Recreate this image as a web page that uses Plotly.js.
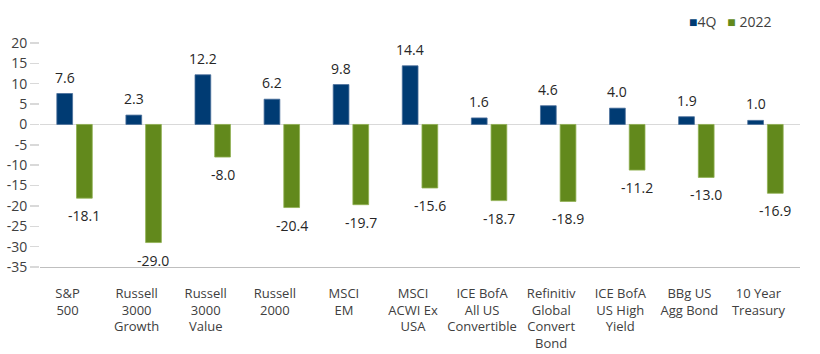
<!DOCTYPE html>
<html><head><meta charset="utf-8">
<script src="https://cdn.plot.ly/plotly-3.0.1.min.js"></script>
<style>html,body{margin:0;padding:0;background:#fff}#c{width:820px;height:354px}</style>
</head><body><div id="c"></div>
<script>
const categories = ["S&P<br>500","Russell<br>3000<br>Growth","Russell<br>3000<br>Value","Russell<br>2000","MSCI<br>EM","MSCI<br>ACWI Ex<br>USA","ICE BofA<br>All US<br>Convertible","Refinitiv<br>Global<br>Convert<br>Bond","ICE BofA<br>US High<br>Yield","BBg US<br>Agg Bond","10 Year<br>Treasury"];
const q4 = [7.6, 2.3, 12.2, 6.2, 9.8, 14.4, 1.6, 4.6, 4.0, 1.9, 1.0];
const y2022 = [-18.1, -29.0, -8.0, -20.4, -19.7, -15.6, -18.7, -18.9, -11.2, -13.0, -16.9];
const yTicks = [20,15,10,5,0,-5,-10,-15,-20,-25,-30,-35];
const seriesNames = ["4Q", "2022"];
const seriesColors = ["#003b73", "#62891c"];

const font = "Open Sans, Noto Sans, sans-serif";
const txtFont = {family: font, size: 14, color: "#262626"};
const traces = [
  {type:"bar", name:seriesNames[0], x:categories, y:q4, marker:{color:seriesColors[0], line:{color:"#4a6f9a", width:0.8}}, hoverinfo:"none"},
  {type:"bar", name:seriesNames[1], x:categories, y:y2022, marker:{color:seriesColors[1], line:{color:"#8fb050", width:0.8}}, hoverinfo:"none"}
];
const bargap = 0.43;
const catPx = 760 / categories.length;
const off = (1 - bargap) * catPx / 4;
const annotations = [];
function addLabels(vals, sign) {
  vals.forEach((v, i) => {
    annotations.push({x: categories[i], y: v, xref:"x", yref:"y", text: v.toFixed(1), showarrow:false,
      xshift: sign * off, yanchor: v >= 0 ? "bottom" : "top", yshift: v >= 0 ? 5 : -6, font: txtFont});
  });
}
addLabels(q4, -1);
addLabels(y2022, 1);
annotations.push({xref:"paper", yref:"paper", x:0.851, y:1.094, xanchor:"left", yanchor:"middle", showarrow:false,
  text:'<span style="color:'+seriesColors[0]+'">■</span>'+seriesNames[0]+'&nbsp;&nbsp;&nbsp;<span style="color:'+seriesColors[1]+'">■</span>&nbsp;'+seriesNames[1],
  font:{family:font, size:14, color:"#404040"}});

const layout = {
  width:820, height:354,
  margin:{l:40, r:20, t:43, b:87, autoexpand:false},
  paper_bgcolor:"#fff", plot_bgcolor:"#fff",
  barmode:"group", bargap:bargap, bargroupgap:0.2,
  font:{family:font, size:13, color:"#404040"},
  showlegend:false,
  annotations: annotations,
  xaxis:{type:"category", showline:true, linecolor:"#bfbfbf", linewidth:1, ticks:"", tickfont:{family:font, size:13, color:"#404040"}, ticklabelstandoff:14, ticklabelshift:-7, showgrid:false, zeroline:false, fixedrange:true},
  yaxis:{range:[-35,20], tickvals:yTicks, ticktext:yTicks.map(String), ticks:"outside", ticklen:9, tickcolor:"#d9d9d9", tickwidth:1.5, showgrid:false, zeroline:true, zerolinecolor:"#d9d9d9", zerolinewidth:1.5, showline:false, tickfont:{family:font, size:14, color:"#404040"}, fixedrange:true}
};
Plotly.newPlot("c", traces, layout, {displayModeBar:false, staticPlot:true});
</script></body></html>
